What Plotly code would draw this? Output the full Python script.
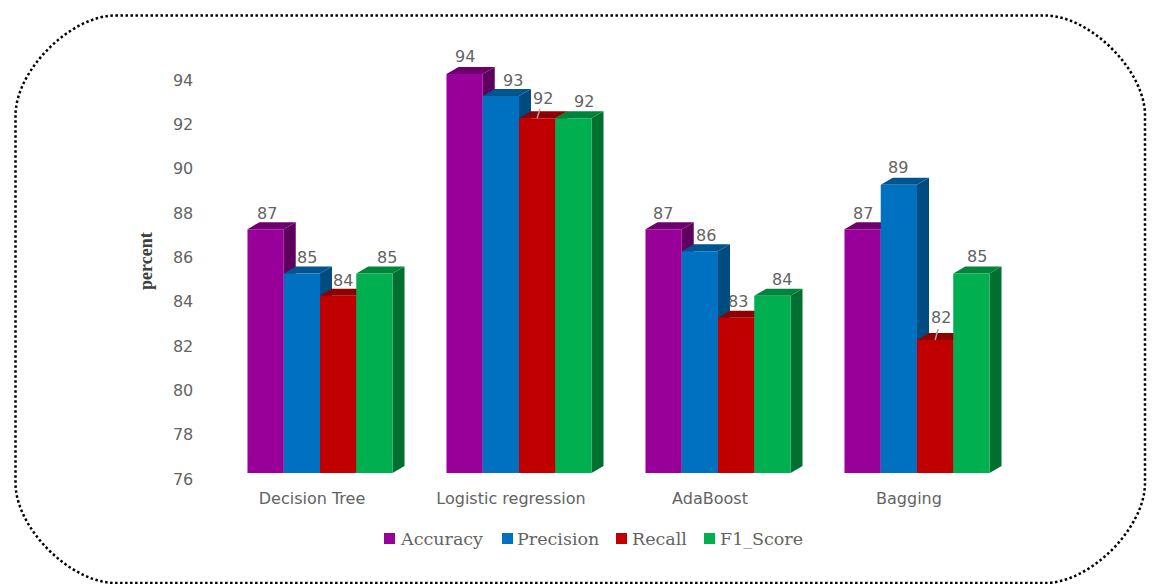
import plotly.graph_objects as go

categories = ["Decision Tree", "Logistic regression", "AdaBoost", "Bagging"]
accuracy = [87, 94, 87, 87]
precision = [85, 93, 86, 89]
recall = [84, 92, 83, 82]
f1_score = [85, 92, 84, 85]
series_names = ["Accuracy", "Precision", "Recall", "F1_Score"]
y_ticks = [76, 78, 80, 82, 84, 86, 88, 90, 92, 94]

series_values = [accuracy, precision, recall, f1_score]
front_colors = ["#990099", "#0070C0", "#C00000", "#00B050"]
top_colors = ["#6E006E", "#00558F", "#8F0000", "#00843C"]
side_colors = ["#5F005F", "#004B80", "#800000", "#007030"]

W, H = 1153, 584
H_EFF = 574   # plot height actually obtained in the page
TEXT = "#636363"
def fx(p): return p / W
def fy(p): return 1 - p / H_EFF

# frame in which the bars stand (pixels)
BX0, BX1, BY0, BY1 = 220.5, 1016.5, 473.0, 29.6
# frame that carries the tick labels: Excel-style 3D floor offset
TX0, TX1, TY0, TY1 = 212.5, 1008.5, 479.0, 35.6
Y_RANGE = [76, 96]
X_RANGE = [-0.5, 3.5]
BAR_W = 0.1822
GROUP_W = BAR_W * 4
DEPTH_X = 12 / 199          # in x units
DEPTH_Y = 7 / 22.17         # in y units

fig = go.Figure()

def bar_x(cat_i, ser_i):
    return cat_i - GROUP_W / 2 + BAR_W * ser_i

# invisible trace that anchors tick axes
fig.add_trace(go.Scatter(x=[0, 3], y=[76, 94], mode="markers", marker=dict(opacity=0),
                         hoverinfo="skip", showlegend=False, xaxis="x", yaxis="y"))

# sides and tops of the bars, in the lower subplot
for c in range(len(categories)):
    for s, vals in enumerate(series_values):
        x0 = bar_x(c, s)
        x1 = x0 + BAR_W
        v = vals[c]
        fig.add_trace(go.Scatter(
            x=[x1, x1 + DEPTH_X, x1 + DEPTH_X, x1, x1],
            y=[Y_RANGE[0], Y_RANGE[0] + DEPTH_Y, v + DEPTH_Y, v, Y_RANGE[0]],
            mode="lines", fill="toself", fillcolor=side_colors[s], line=dict(width=0),
            hoverinfo="skip", showlegend=False, xaxis="x2", yaxis="y2"))
        fig.add_trace(go.Scatter(
            x=[x0, x0 + DEPTH_X, x1 + DEPTH_X, x1, x0],
            y=[v, v + DEPTH_Y, v + DEPTH_Y, v, v],
            mode="lines", fill="toself", fillcolor=top_colors[s], line=dict(width=0),
            hoverinfo="skip", showlegend=False, xaxis="x2", yaxis="y2"))

# front faces
for s, vals in enumerate(series_values):
    fig.add_trace(go.Bar(
        x=[c - GROUP_W / 2 + BAR_W * (s + 0.5) for c in range(len(categories))],
        y=[v - Y_RANGE[0] for v in vals], base=Y_RANGE[0], width=BAR_W,
        name=series_names[s], marker=dict(color=front_colors[s], line=dict(width=0)),
        showlegend=False, xaxis="x3", yaxis="y3"))

# data labels: pixel nudges per (category, series)
label_dx = [[1.4, 5, 5, 12.6], [0.4, 12, 6, 10.6], [-0.6, 6, 2, 9.6], [0.4, -1, 6, 5.6]]
label_dy = [[16, 16, 15, 16], [17, 16, 20, 17], [16, 16, 16, 16], [16, 17, 22, 17]]
leaders = {(1, 2), (3, 2)}
annotations = []
for c in range(len(categories)):
    for s, vals in enumerate(series_values):
        xc = bar_x(c, s) + BAR_W / 2
        if (c, s) in leaders:
            annotations.append(dict(
                x=xc, y=vals[c], xref="x3", yref="y3", text=str(vals[c]), showarrow=True,
                ax=label_dx[c][s], ay=-label_dy[c][s], arrowhead=0, arrowwidth=1.5,
                arrowcolor="#A6A6A6", standoff=0, font=dict(family="DejaVu Sans", size=16, color=TEXT)))
        else:
            annotations.append(dict(
                x=xc, y=vals[c], xref="x3", yref="y3", text=str(vals[c]), showarrow=False,
                xshift=label_dx[c][s], yshift=label_dy[c][s],
                font=dict(family="DejaVu Sans", size=16, color=TEXT)))

annotations.append(dict(
    x=fx(146), y=fy(261), xref="paper", yref="paper", text="<b>percent</b>", textangle=-90,
    xanchor="center", yanchor="middle",
    showarrow=False, font=dict(family="Liberation Serif", size=18, color="#404040")))

# rounded dotted frame
L, T, R, B, r = 15.5, 15.5, 1145, 583, 100
k = 0.45 * r
pts = [("M", L + r, T), ("L", R - r, T),
       ("C", R - r + k, T, R, T + r - k, R, T + r), ("L", R, B - r),
       ("C", R, B - r + k, R - r + k, B, R - r, B), ("L", L + r, B),
       ("C", L + r - k, B, L, B - r + k, L, B - r), ("L", L, T + r),
       ("C", L, T + r - k, L + r - k, T, L + r, T)]
path = ""
for p in pts:
    nums = p[1:]
    path += p[0] + " ".join(
        f"{fx(n):.5f},{fy(nums[i + 1]):.5f}" for i, n in enumerate(nums) if i % 2 == 0) + " "
path += "Z"
shapes = [dict(type="path", path=path, xref="paper", yref="paper",
               line=dict(color="#000000", width=2.5, dash="2.5px,2.5px"))]

# legend row
legend_swatch_x = [384, 502, 616, 704]
legend_text_x = [398, 515, 630, 718]
LEG_Y = 539
for i, name in enumerate(series_names):
    shapes.append(dict(type="rect", xref="paper", yref="paper",
                       x0=fx(legend_swatch_x[i]), x1=fx(legend_swatch_x[i] + 11),
                       y0=fy(LEG_Y + 5), y1=fy(LEG_Y - 6),
                       fillcolor=front_colors[i], line=dict(width=0)))
    annotations.append(dict(
        x=fx(legend_text_x[i]), y=fy(LEG_Y), xref="paper", yref="paper", text=name,
        xanchor="left", yanchor="middle", showarrow=False,
        font=dict(family="DejaVu Serif", size=17.5, color=TEXT)))

fig.update_layout(
    width=W, height=H, autosize=False, margin=dict(l=0, r=0, t=0, b=0, pad=0),
    paper_bgcolor="white", plot_bgcolor="rgba(0,0,0,0)", showlegend=False,
    barmode="overlay", annotations=annotations, shapes=shapes,
    xaxis=dict(domain=[fx(TX0), fx(TX1)], range=X_RANGE, tickmode="array",
               tickvals=list(range(len(categories))), ticktext=categories, showgrid=False,
               zeroline=False, showline=False, ticks="outside", ticklen=5,
               tickcolor="rgba(0,0,0,0)", tickfont=dict(family="DejaVu Sans", size=16, color=TEXT)),
    yaxis=dict(domain=[fy(TY0), fy(TY1)], range=Y_RANGE, tickmode="array", tickvals=y_ticks,
               showgrid=False, zeroline=False, showline=False, ticks="outside", ticklen=15,
               tickcolor="rgba(0,0,0,0)", tickfont=dict(family="DejaVu Sans", size=16, color=TEXT)),
    xaxis2=dict(domain=[fx(BX0), fx(BX1)], range=X_RANGE, visible=False, anchor="y2"),
    yaxis2=dict(domain=[fy(BY0), fy(BY1)], range=Y_RANGE, visible=False, anchor="x2"),
    xaxis3=dict(domain=[fx(BX0), fx(BX1)], range=X_RANGE, visible=False, anchor="y3", overlaying="x2"),
    yaxis3=dict(domain=[fy(BY0), fy(BY1)], range=Y_RANGE, visible=False, anchor="x3", overlaying="y2"),
)

fig.write_html("out.html", config=dict(displayModeBar=False),
               post_script="document.body.style.margin='0';document.documentElement.style.overflow='hidden';")
